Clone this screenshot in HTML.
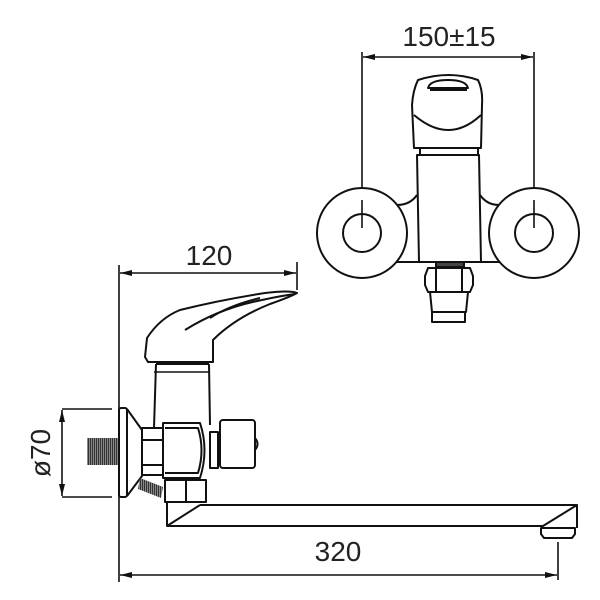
<!DOCTYPE html>
<html><head><meta charset="utf-8"><style>
html,body{margin:0;padding:0;background:#fff;}
svg{display:block;}
text{font-family:"Liberation Sans",sans-serif;fill:#222;}
</style></head><body>
<svg width="600" height="600" viewBox="0 0 600 600" xmlns="http://www.w3.org/2000/svg">
<defs>
<marker id="ar" markerWidth="12" markerHeight="8" refX="12" refY="4" orient="auto" markerUnits="userSpaceOnUse">
<path d="M0,1 L12,4 L0,7 Z" fill="#111"/></marker>
<marker id="al" markerWidth="12" markerHeight="8" refX="0" refY="4" orient="auto" markerUnits="userSpaceOnUse">
<path d="M12,1 L0,4 L12,7 Z" fill="#111"/></marker>
<pattern id="th" width="2" height="2" patternUnits="userSpaceOnUse"><rect width="2" height="2" fill="#888"/><rect width="1" height="2" fill="#333"/></pattern>
</defs>
<g stroke="#111" stroke-width="2" fill="none" stroke-linejoin="round">
<line x1="362" y1="52" x2="362" y2="228" stroke-width="1.6"/>
<line x1="534" y1="52" x2="534" y2="228" stroke-width="1.6"/>
<line x1="363" y1="57" x2="533" y2="57" stroke-width="1.6" marker-start="url(#al)" marker-end="url(#ar)"/>
<circle cx="362" cy="233" r="45" fill="#fff"/>
<circle cx="362" cy="233" r="19"/>
<circle cx="534" cy="233" r="45" fill="#fff"/>
<circle cx="534" cy="233" r="19"/>
<line x1="362" y1="200" x2="362" y2="228" stroke-width="1.6"/>
<line x1="534" y1="200" x2="534" y2="228" stroke-width="1.6"/>
<path d="M397,205 Q410,205 417,195 M480,195 Q487,205 499,205"/>
<line x1="397" y1="262" x2="499" y2="262"/>
<path d="M417,155 L479,155 L481,262 L419,262 Z" fill="#fff"/>
<path d="M420,145 L420,155 L478,155 L478,145"/>
<path d="M414,148 L412,105 Q413,90 418,80 Q449,70 478,80 Q483,90 482,105 L481,148 Z" fill="#fff"/>
<path d="M414,115 Q449,145 481,115"/>
<path d="M428,88 Q430,80 448,80 Q466,80 468,88 Z" fill="#fff"/>
<path d="M430,90 L467,90"/>
<rect x="436" y="262" width="28" height="5" fill="#444"/>
<path d="M428,268 L470,268 L473,276 L473,285 L470,292 L428,292 L425,285 L425,276 Z" fill="#fff"/>
<line x1="436" y1="268" x2="436" y2="292"/><line x1="462" y1="268" x2="462" y2="292"/>
<path d="M430,292 L468,292 L466,312 L432,312 Z" fill="#fff"/>
<rect x="432" y="312" width="33" height="10" fill="#fff"/>
<line x1="119" y1="265" x2="119" y2="582" stroke-width="1.6"/>
<line x1="297" y1="262" x2="297" y2="290" stroke-width="1.6"/>
<line x1="120" y1="273" x2="296" y2="273" stroke-width="1.6" marker-start="url(#al)" marker-end="url(#ar)"/>
<line x1="558" y1="542" x2="558" y2="580" stroke-width="1.6"/>
<line x1="120" y1="575" x2="557" y2="575" stroke-width="1.6" marker-start="url(#al)" marker-end="url(#ar)"/>
<line x1="62" y1="409" x2="112" y2="409" stroke-width="1.6"/>
<line x1="62" y1="497" x2="112" y2="497" stroke-width="1.6"/>
<line x1="62" y1="410" x2="62" y2="496" stroke-width="1.6" marker-start="url(#al)" marker-end="url(#ar)"/>
<path d="M147,338 L145,357 L148,362 L213,362 L213,340 Q235,318 270,304 Q290,297 297,293 Q290,290 265,293 Q220,300 180,310 Q160,318 147,338 Z" fill="#fff"/>
<path d="M185,330 Q220,308 262,300 Q280,296 295,294"/>
<path d="M210,318 Q230,305 260,298"/>
<path d="M156,364 L154,428 M209,364 L210,425"/>
<line x1="156" y1="364" x2="209" y2="364"/>
<line x1="154" y1="372" x2="210" y2="372" stroke-width="1.4"/>
<rect x="119" y="408" width="8" height="89" rx="2" fill="#fff"/>
<path d="M127,409 L142,430 L142,476 L127,496"/>
<rect x="87" y="438" width="31" height="27" fill="url(#th)" stroke="none"/>
<rect x="142" y="428" width="21" height="47" fill="#fff"/>
<line x1="142" y1="440" x2="163" y2="440"/><line x1="142" y1="465" x2="163" y2="465"/>
<path d="M163,423 L200,423 Q209,450 200,478 L163,478 Z" fill="#fff"/>
<path d="M165,428 L198,428 Q205,450 198,473 L165,473"/>
<rect x="210" y="432" width="8" height="36" fill="#fff"/>
<rect x="220" y="420" width="35" height="48" rx="3" fill="#fff"/>
<path d="M255,438 Q260,444 255,450"/>
<path d="M140,478 L163,487 L161,498 L138,489 Z" fill="url(#th)" stroke="none"/>
<rect x="165" y="480" width="41" height="22" fill="#fff"/>
<line x1="186" y1="480" x2="186" y2="502"/>
<path d="M167,502 L167,526 L200,505 M167,526 L543,526 L577,505 L200,505"/>
<path d="M577,505 L577,528"/>
<path d="M541,528 L575,528 L575,534 L572,538 L544,538 L541,534 Z" fill="#fff"/>
</g>
<text x="449" y="46" font-size="28" text-anchor="middle">150±15</text>
<text x="209" y="265" font-size="28" text-anchor="middle">120</text>
<text x="338" y="561" font-size="28" text-anchor="middle">320</text>
<text transform="translate(50,453) rotate(-90)" font-size="28" text-anchor="middle">ø70</text>
</svg>
</body></html>
